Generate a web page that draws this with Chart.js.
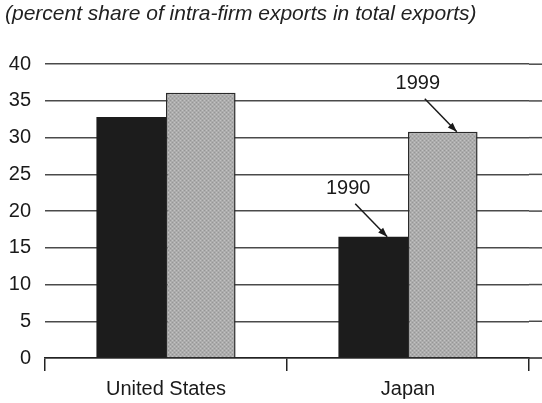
<!DOCTYPE html>
<html>
<head>
<meta charset="utf-8">
<script src="https://cdn.jsdelivr.net/npm/chart.js@4"></script>
<style>
  html, body { margin: 0; padding: 0; background: #ffffff; }
  #wrap { width: 542px; height: 403px; position: relative; }
</style>
</head>
<body>
<div id="wrap"><canvas id="c" width="542" height="403"></canvas></div>
<script>
const titleText = '(percent share of intra-firm exports in total exports)';
const categories = ['United States', 'Japan'];
const seriesLabels = ['1990', '1999'];
const values1990 = [32.8, 16.5];
const values1999 = [36.1, 30.8];
const yMin = 0, yMax = 40, yStep = 5;

const FONT = '"Liberation Sans", Arial, sans-serif';

function makePattern() {
  const p = document.createElement('canvas');
  p.width = 4; p.height = 4;
  const g = p.getContext('2d');
  g.fillStyle = '#acacac'; g.fillRect(0, 0, 4, 4);
  g.fillStyle = '#c2c2c2';
  g.fillRect(0, 0, 1, 1); g.fillRect(2, 2, 1, 1);
  g.fillStyle = '#969696';
  g.fillRect(2, 0, 1, 1); g.fillRect(0, 2, 1, 1);
  return g.createPattern(p, 'repeat');
}

const extendGrid = {
  id: 'extendGrid',
  beforeDatasetsDraw(chart) {
    const ctx = chart.ctx, y = chart.scales.y, area = chart.chartArea;
    ctx.save();
    y.ticks.forEach(t => {
      const py = y.getPixelForValue(t.value);
      ctx.strokeStyle = t.value === yMin ? '#222' : '#4a4a4a';
      ctx.lineWidth = 1.5;
      ctx.beginPath();
      ctx.moveTo(area.right, py);
      ctx.lineTo(chart.width, py);
      ctx.stroke();
    });
    ctx.restore();
  }
};

const arrows = {
  id: 'arrows',
  afterDatasetsDraw(chart) {
    const ctx = chart.ctx;
    ctx.save();
    [0, 1].forEach(di => {
      const bar = chart.getDatasetMeta(di).data[1];
      const tipX = bar.x + 14, tipY = bar.y;
      const sx = tipX - 32, sy = tipY - 33;
      ctx.strokeStyle = '#1a1a1a';
      ctx.fillStyle = '#1a1a1a';
      ctx.lineWidth = 1.5;
      ctx.beginPath();
      ctx.moveTo(sx, sy);
      ctx.lineTo(tipX, tipY);
      ctx.stroke();
      const ang = Math.atan2(tipY - sy, tipX - sx);
      const len = 10, half = 0.35;
      ctx.beginPath();
      ctx.moveTo(tipX, tipY);
      ctx.lineTo(tipX - len * Math.cos(ang - half), tipY - len * Math.sin(ang - half));
      ctx.lineTo(tipX - len * Math.cos(ang + half), tipY - len * Math.sin(ang + half));
      ctx.closePath();
      ctx.fill();
      ctx.font = '20px ' + FONT;
      ctx.textAlign = 'center';
      ctx.textBaseline = 'middle';
      ctx.fillText(chart.data.datasets[di].label, tipX - 39, tipY - 48);
    });
    ctx.restore();
  }
};

const ctx = document.getElementById('c').getContext('2d');
new Chart(ctx, {
  type: 'bar',
  data: {
    labels: categories,
    datasets: [
      { label: seriesLabels[0], data: values1990, backgroundColor: '#1c1c1c', borderColor: '#1c1c1c', borderWidth: 0 },
      { label: seriesLabels[1], data: values1999, backgroundColor: makePattern(), borderColor: '#2a2a2a', borderWidth: 1.5 }
    ]
  },
  options: {
    responsive: false,
    animation: false,
    devicePixelRatio: 1,
    datasets: { bar: { categoryPercentage: 0.575, barPercentage: 1.0 } },
    layout: { padding: { left: 5, right: 13, top: 0, bottom: 0 } },
    plugins: {
      legend: { display: false },
      tooltip: { enabled: false },
      title: {
        display: true,
        text: titleText,
        align: 'start',
        color: '#222',
        font: { family: FONT, size: 21, style: 'italic', weight: 'normal', lineHeight: 1.2 },
        padding: { top: 2, bottom: 37 }
      }
    },
    scales: {
      x: {
        offset: true,
        grid: { display: true, drawOnChartArea: false, drawTicks: true, tickLength: 13, offset: true, color: '#222', lineWidth: 1.5 },
        border: { display: true, color: '#222', width: 1.5 },
        ticks: { color: '#1a1a1a', padding: 6, font: { family: FONT, size: 20 } },
        afterFit(s) { s.height = 45; }
      },
      y: {
        min: yMin, max: yMax,
        ticks: { stepSize: yStep, color: '#1a1a1a', padding: 14, font: { family: FONT, size: 20 } },
        grid: { color: '#4a4a4a', lineWidth: 1.5, drawTicks: false },
        border: { display: false },
        afterFit(s) { s.width = 40; }
      }
    }
  },
  plugins: [extendGrid, arrows]
});
</script>
</body>
</html>
